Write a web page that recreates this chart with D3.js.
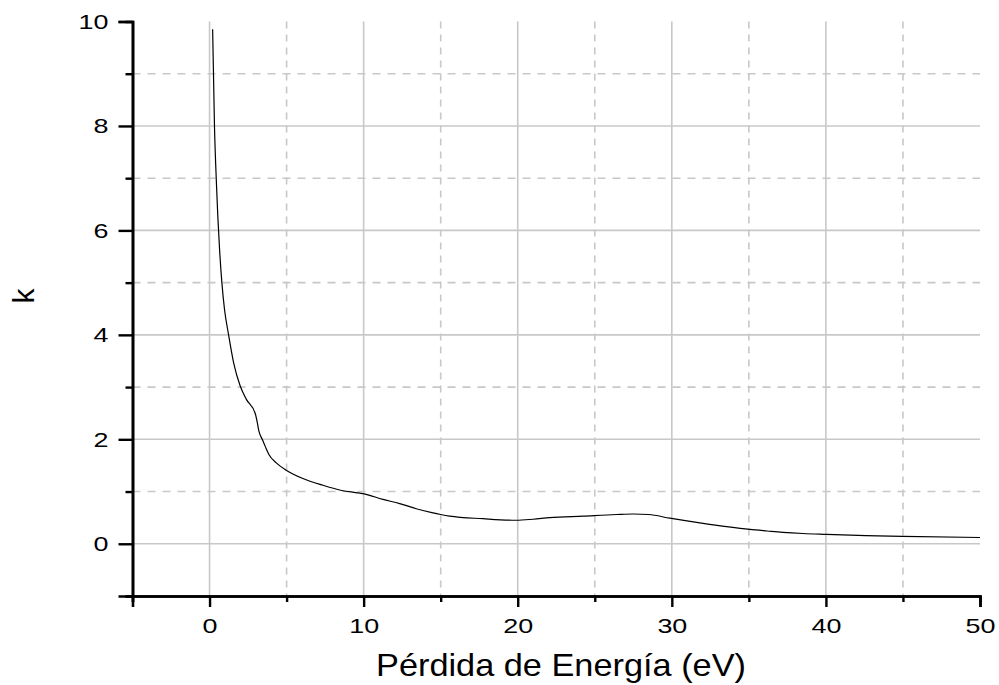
<!DOCTYPE html>
<html>
<head>
<meta charset="utf-8">
<script src="https://cdn.jsdelivr.net/npm/d3@7"></script>
<style>
  html, body { margin: 0; padding: 0; background: #fff; }
  svg { display: block; font-family: "Liberation Sans", Arial, sans-serif; }
</style>
</head>
<body>
<svg id="chart" width="999" height="685"></svg>
<script>
// ---- data ----
const energy = [0.2, 0.32, 0.45, 0.54, 0.65, 0.80, 0.97, 1.23, 1.56, 1.99, 2.38, 2.97, 3.10, 3.20, 3.42, 3.62, 3.85, 4.33, 4.97, 6.06, 7.36, 8.44, 9.5, 9.95, 11.25, 12.34, 13.42, 14.5, 15.0, 15.58, 17.75, 19.9, 21.0, 22.08, 24.24, 26.41, 27.5, 28.5, 29.87, 31.82, 35.06, 36.2, 37.2, 38.5, 40.04, 42.6, 45.0, 50.0];
const kValues = [9.85, 8.0, 6.88, 6.25, 5.64, 5.0, 4.49, 4.01, 3.47, 3.02, 2.77, 2.49, 2.32, 2.16, 2.0, 1.86, 1.71, 1.55, 1.41, 1.25, 1.12, 1.03, 0.98, 0.96, 0.85, 0.77, 0.67, 0.59, 0.56, 0.53, 0.48, 0.45, 0.47, 0.50, 0.53, 0.56, 0.57, 0.56, 0.49, 0.40, 0.275, 0.245, 0.22, 0.197, 0.18, 0.155, 0.14, 0.12];
const xMajorTicks = [0, 10, 20, 30, 40, 50];
const xMinorTicks = [-5, 5, 15, 25, 35, 45];
const yMajorTicks = [0, 2, 4, 6, 8, 10];
const yMinorTicks = [-1, 1, 3, 5, 7, 9];
const xTitle = "Pérdida de Energía (eV)";
const yTitle = "k";

// ---- layout ----
const svg = d3.select("#chart");
const mLeft = 132.5, mRight = 980, mTop = 21.5, mBottom = 596;
const x = d3.scaleLinear().domain([-5, 50]).range([mLeft, mRight]);
const y = d3.scaleLinear().domain([-1, 10]).range([mBottom, mTop]);

const gridColor = "#c8c8c8";
const grid = svg.append("g");
// vertical grid
grid.selectAll(".vmaj").data(xMajorTicks.filter(d => d > -5 && d < 50)).join("line")
  .attr("x1", d => x(d)).attr("x2", d => x(d)).attr("y1", mTop).attr("y2", mBottom)
  .attr("stroke", gridColor).attr("stroke-width", 1.6);
grid.selectAll(".vmin").data(xMinorTicks.filter(d => d > -5 && d < 50)).join("line")
  .attr("x1", d => x(d)).attr("x2", d => x(d)).attr("y1", mTop).attr("y2", mBottom)
  .attr("stroke", gridColor).attr("stroke-width", 1.6).attr("stroke-dasharray", "7,6");
// horizontal grid
grid.selectAll(".hmaj").data(yMajorTicks.filter(d => d > -1 && d < 10)).join("line")
  .attr("x1", mLeft).attr("x2", mRight).attr("y1", d => y(d)).attr("y2", d => y(d))
  .attr("stroke", gridColor).attr("stroke-width", 1.6);
grid.selectAll(".hmin").data(yMinorTicks.filter(d => d > -1 && d < 10)).join("line")
  .attr("x1", mLeft).attr("x2", mRight).attr("y1", d => y(d)).attr("y2", d => y(d))
  .attr("stroke", gridColor).attr("stroke-width", 1.6).attr("stroke-dasharray", "8,7");

// ---- curve ----
const pts = energy.map((e, i) => [e, kValues[i]]);
svg.append("path").datum(pts)
  .attr("fill", "none").attr("stroke", "#000").attr("stroke-width", 1.2)
  .attr("d", d3.line().x(d => x(d[0])).y(d => y(d[1])).curve(d3.curveMonotoneX));

// ---- axes ----
const xAxisMaj = d3.axisBottom(x).tickValues(xMajorTicks).tickSize(11).tickPadding(10).tickFormat(d3.format("d"));
const xAxisMin = d3.axisBottom(x).tickValues(xMinorTicks).tickSize(6).tickFormat("");
const yAxisMaj = d3.axisLeft(y).tickValues(yMajorTicks).tickSize(14).tickPadding(10).tickFormat(d3.format("d"));
const yAxisMin = d3.axisLeft(y).tickValues(yMinorTicks).tickSize(7).tickFormat("");

function widen(sel, factor) {
  sel.each(function () {
    const w = this.getComputedTextLength();
    d3.select(this).attr("textLength", w * factor).attr("lengthAdjust", "spacingAndGlyphs");
  });
}
function styleAxis(g) {
  g.selectAll("path").attr("stroke", "#000").attr("stroke-width", 2.6);
  g.selectAll("line").attr("stroke", "#000").attr("stroke-width", 2.4);
  g.selectAll("text").attr("fill", "#000").attr("font-size", 21)
    .attr("font-family", "'Liberation Sans', Arial, sans-serif");
}
svg.append("g").attr("transform", `translate(0,${mBottom})`).call(xAxisMin).call(styleAxis);
const gx = svg.append("g").attr("transform", `translate(0,${mBottom})`).call(xAxisMaj).call(styleAxis);
gx.selectAll("text").attr("dy", "0.75em").call(widen, 1.28);
svg.append("g").attr("transform", `translate(${mLeft},0)`).call(yAxisMin).call(styleAxis);
const gy = svg.append("g").attr("transform", `translate(${mLeft},0)`).call(yAxisMaj).call(styleAxis);
gy.selectAll("text").call(widen, 1.28);

// ---- titles ----
svg.append("text").attr("x", 561).attr("y", 676).attr("text-anchor", "middle")
  .attr("font-size", 32).attr("fill", "#000").text(xTitle)
  .attr("textLength", 370).attr("lengthAdjust", "spacingAndGlyphs");
svg.append("text").attr("transform", "translate(34,296) rotate(-90)").attr("text-anchor", "middle")
  .attr("font-size", 30).attr("fill", "#000").text(yTitle);
</script>
</body>
</html>
